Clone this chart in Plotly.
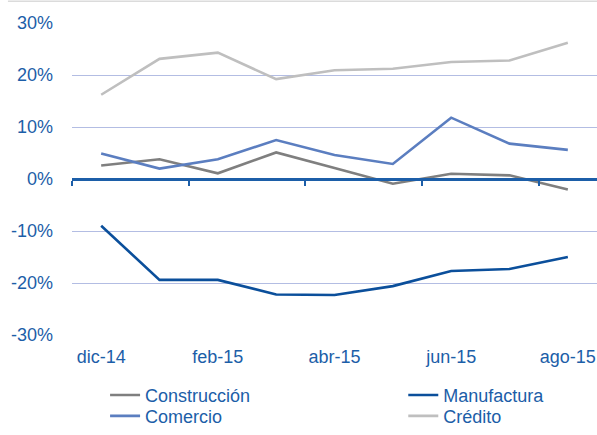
import plotly.graph_objects as go

months = ["dic-14", "ene-15", "feb-15", "mar-15", "abr-15", "may-15", "jun-15", "jul-15", "ago-15"]
construccion = [2.6, 3.8, 1.1, 5.1, 2.1, -0.9, 1.0, 0.7, -2.0]
manufactura = [-9.0, -19.4, -19.4, -22.2, -22.3, -20.6, -17.7, -17.3, -15.0]
comercio = [4.9, 2.0, 3.8, 7.5, 4.6, 2.9, 11.8, 6.8, 5.6]
credito = [16.2, 23.1, 24.3, 19.2, 20.9, 21.2, 22.5, 22.8, 26.2]

y_ticks = [-30, -20, -10, 0, 10, 20, 30]
y_labels = [f"{v}%" for v in y_ticks]

BLUE_TXT = "#1c5ea8"
FONT = "Liberation Sans, Arial, sans-serif"

x = list(range(len(months)))
# name, values, colour, legend slot (2x2 grid below the plot)
series = [
    ("Construcción", construccion, "#7f7f7f", "legend"),
    ("Manufactura", manufactura, "#0b4f9b", "legend2"),
    ("Comercio", comercio, "#5b7ec0", "legend3"),
    ("Crédito", credito, "#bfbfbf", "legend4"),
]

fig = go.Figure()
for name, vals, col, leg in series:
    fig.add_trace(go.Scatter(x=x, y=vals, name=name, mode="lines", legend=leg,
                             line=dict(color=col, width=2.6)))

# invisible trace to carry the zero axis line with boundary ticks
fig.add_trace(go.Scatter(x=x, y=[0] * len(x), xaxis="x2", mode="lines",
                         line=dict(width=0), showlegend=False, hoverinfo="skip"))


def leg(xp, yp):
    return dict(x=xp, y=yp, orientation="v", xanchor="left", yanchor="top",
                bgcolor="rgba(0,0,0,0)", font=dict(family=FONT, size=18, color=BLUE_TXT))


fig.update_layout(
    width=597, height=435,
    margin=dict(l=72, r=0, t=23, b=100, autoexpand=False),
    paper_bgcolor="white", plot_bgcolor="white",
    font=dict(family=FONT, size=18, color=BLUE_TXT),
    xaxis=dict(range=[-0.5, len(months) - 0.5], tickvals=x[::2], ticktext=months[::2],
               showgrid=False, zeroline=False, showline=False, ticks="",
               ticklabelstandoff=9),
    xaxis2=dict(range=[-0.5, len(months) - 0.5], overlaying="x", anchor="free", position=0.5,
                tickvals=[v - 0.5 for v in x[::2]], showticklabels=False, ticks="outside",
                ticklen=5, tickwidth=2, tickcolor=BLUE_TXT,
                showline=True, linecolor=BLUE_TXT, linewidth=2.5, showgrid=False, zeroline=False),
    yaxis=dict(range=[-30, 30], tickvals=y_ticks, ticktext=y_labels,
               showgrid=True, gridcolor="#b3bde3", gridwidth=1, zeroline=False,
               showline=False, ticks="", ticklabelstandoff=18),
    legend=leg(0.063, -0.134),
    legend2=leg(0.631, -0.134),
    legend3=leg(0.063, -0.201),
    legend4=leg(0.631, -0.201),
    shapes=[dict(type="line", xref="paper", yref="paper", x0=-0.122, x1=1.0, y0=1.07, y1=1.07,
                 line=dict(color="#c8c8c8", width=1))],
    showlegend=True,
)

fig.write_html("out.html", config={"displayModeBar": False},
               post_script="document.body.style.margin='0';")
